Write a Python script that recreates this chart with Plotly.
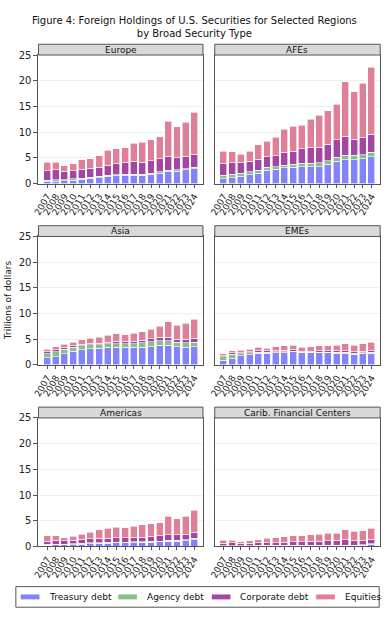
import plotly.graph_objects as go

years = list(range(2007, 2025))
year_labels = [str(y) for y in years]

regions = ["Europe", "AFEs", "Asia", "EMEs", "Americas", "Carib. Financial Centers"]
series_names = ["Treasury debt", "Agency debt", "Corporate debt", "Equities"]
series_colors = ["#8383fb", "#83c283", "#a346a3", "#df7f98"]

# Values in trillions of dollars (segments of each stacked bar)
europe_treasury = [0.3, 0.4, 0.5, 0.65, 0.8, 1.0, 1.15, 1.45, 1.5, 1.6, 1.6, 1.6, 1.8, 2.0, 2.3, 2.4, 2.65, 2.85]
europe_agency = [0.3, 0.3, 0.25, 0.25, 0.25, 0.25, 0.25, 0.2, 0.2, 0.2, 0.2, 0.2, 0.2, 0.25, 0.25, 0.25, 0.25, 0.3]
europe_corporate = [1.9, 2.0, 1.65, 1.6, 1.75, 1.75, 1.8, 1.95, 2.1, 2.3, 2.5, 2.35, 2.4, 2.6, 2.75, 2.35, 2.45, 2.55]
europe_equities = [1.65, 1.45, 1.1, 1.3, 1.8, 1.85, 2.2, 2.85, 3.0, 2.9, 3.5, 3.9, 4.1, 4.25, 6.8, 6.0, 6.55, 8.15]

afes_treasury = [0.95, 1.15, 1.4, 1.7, 2.0, 2.6, 2.75, 3.1, 3.2, 3.3, 3.25, 3.25, 3.75, 4.3, 4.6, 4.6, 4.8, 5.25]
afes_agency = [0.7, 0.65, 0.6, 0.6, 0.6, 0.6, 0.5, 0.5, 0.55, 0.65, 0.7, 0.75, 0.7, 0.8, 0.9, 0.9, 0.8, 0.85]
afes_corporate = [2.15, 2.2, 2.0, 2.0, 2.1, 2.0, 2.15, 2.5, 2.55, 2.85, 3.15, 3.1, 3.2, 3.4, 3.7, 3.1, 3.3, 3.5]
afes_equities = [2.5, 2.2, 1.7, 2.0, 2.8, 3.0, 3.6, 4.5, 4.8, 4.55, 5.4, 6.2, 6.55, 6.9, 10.6, 9.3, 10.6, 13.0]

asia_treasury = [1.4, 1.6, 2.2, 2.7, 3.0, 3.2, 3.3, 3.45, 3.45, 3.45, 3.4, 3.45, 3.55, 3.8, 3.8, 3.55, 3.4, 3.5]
asia_agency = [0.8, 1.0, 0.85, 0.75, 0.75, 0.7, 0.6, 0.65, 0.7, 0.7, 0.75, 0.9, 0.95, 0.9, 0.9, 0.85, 0.9, 0.95]
asia_corporate = [0.35, 0.4, 0.35, 0.3, 0.25, 0.3, 0.3, 0.35, 0.5, 0.5, 0.5, 0.5, 0.6, 0.7, 0.7, 0.65, 0.7, 0.75]
asia_equities = [0.55, 0.55, 0.6, 0.7, 0.9, 1.0, 1.15, 1.35, 1.4, 1.25, 1.55, 1.65, 1.85, 2.1, 3.0, 2.65, 3.1, 3.7]

emes_treasury = [0.9, 1.2, 1.8, 2.0, 2.3, 2.25, 2.35, 2.4, 2.55, 2.35, 2.35, 2.35, 2.35, 2.3, 2.3, 2.1, 2.25, 2.25]
emes_agency = [0.65, 0.85, 0.35, 0.35, 0.2, 0.25, 0.2, 0.2, 0.15, 0.15, 0.15, 0.15, 0.15, 0.2, 0.2, 0.2, 0.15, 0.25]
emes_corporate = [0.25, 0.3, 0.25, 0.25, 0.25, 0.25, 0.25, 0.25, 0.25, 0.2, 0.2, 0.25, 0.25, 0.25, 0.25, 0.25, 0.3, 0.25]
emes_equities = [0.35, 0.4, 0.45, 0.45, 0.7, 0.55, 0.75, 0.9, 0.85, 0.75, 0.8, 0.95, 1.0, 1.05, 1.35, 1.25, 1.4, 1.7]

americas_treasury = [0.25, 0.3, 0.3, 0.35, 0.45, 0.55, 0.6, 0.65, 0.7, 0.7, 0.75, 0.8, 0.85, 0.9, 1.0, 1.0, 1.1, 1.3]
americas_agency = [0.15, 0.15, 0.15, 0.15, 0.15, 0.15, 0.15, 0.15, 0.15, 0.15, 0.15, 0.15, 0.15, 0.15, 0.15, 0.15, 0.15, 0.25]
americas_corporate = [0.6, 0.75, 0.65, 0.65, 0.75, 0.75, 0.8, 0.75, 0.85, 0.85, 0.9, 0.85, 1.0, 1.05, 1.15, 1.1, 1.05, 1.2]
americas_equities = [1.05, 0.9, 0.6, 0.85, 1.05, 1.35, 1.65, 2.0, 2.05, 1.95, 2.15, 2.4, 2.45, 2.5, 3.55, 3.15, 3.55, 4.25]

carib_treasury = [0.1, 0.12, 0.12, 0.12, 0.15, 0.15, 0.15, 0.15, 0.15, 0.15, 0.15, 0.15, 0.15, 0.2, 0.2, 0.2, 0.25, 0.4]
carib_agency = [0.05, 0.05, 0.05, 0.05, 0.05, 0.05, 0.05, 0.05, 0.05, 0.05, 0.05, 0.05, 0.05, 0.05, 0.05, 0.05, 0.05, 0.1]
carib_corporate = [0.5, 0.53, 0.48, 0.48, 0.5, 0.55, 0.55, 0.65, 0.7, 0.75, 0.8, 0.8, 0.9, 0.9, 1.05, 0.95, 0.9, 0.9]
carib_equities = [0.5, 0.5, 0.3, 0.45, 0.6, 0.8, 0.9, 1.05, 1.15, 1.1, 1.25, 1.35, 1.45, 1.45, 1.9, 1.75, 1.85, 2.15]

region_data = [
    [europe_treasury, europe_agency, europe_corporate, europe_equities],
    [afes_treasury, afes_agency, afes_corporate, afes_equities],
    [asia_treasury, asia_agency, asia_corporate, asia_equities],
    [emes_treasury, emes_agency, emes_corporate, emes_equities],
    [americas_treasury, americas_agency, americas_corporate, americas_equities],
    [carib_treasury, carib_agency, carib_corporate, carib_equities],
]

y_ticks = [0, 5, 10, 15, 20, 25]

W, H = 392, 624
col_px = [(33, 200), (212, 380)]
row_px = [(50, 181), (235, 366), (420, 551)]  # (top, bottom) in pixels from top
strip_h = 11
frame_col = "#555555"

fig = go.Figure()
layout = dict(
    width=W, height=H, autosize=False,
    margin=dict(l=0, r=0, t=0, b=0),
    paper_bgcolor="white", plot_bgcolor="white",
    barmode="stack", bargap=0.2,
    showlegend=False,
    font=dict(family="DejaVu Sans", color="#222222"),
)
shapes = []
annotations = []

for i, region in enumerate(regions):
    r, c = divmod(i, 2)
    idx = i + 1
    xa = "x" if idx == 1 else f"x{idx}"
    ya = "y" if idx == 1 else f"y{idx}"
    for s in range(4):
        fig.add_trace(go.Bar(
            x=years, y=region_data[i][s], name=series_names[s],
            marker=dict(color=series_colors[s], line=dict(color="white", width=0.6)),
            xaxis=xa, yaxis=ya, showlegend=False,
        ))
    x0, x1 = col_px[c][0] / W, col_px[c][1] / W
    top, bot = row_px[r]
    y0, y1 = 1 - bot / H, 1 - top / H
    layout["xaxis" if idx == 1 else f"xaxis{idx}"] = dict(
        domain=[x0, x1], anchor=ya, range=[2006, 2025],
        tickmode="array", tickvals=years, ticktext=year_labels,
        tickangle=-60, tickfont=dict(size=9, color="#222222"),
        ticks="outside", ticklen=3, tickcolor=frame_col,
        showline=True, mirror=True, linecolor=frame_col, linewidth=1,
        showgrid=False, zeroline=False, fixedrange=True,
    )
    layout["yaxis" if idx == 1 else f"yaxis{idx}"] = dict(
        domain=[y0, y1], anchor=xa, range=[0, 25],
        tickmode="array", tickvals=y_ticks,
        showticklabels=(c == 0), tickfont=dict(size=10, color="#222222"),
        ticks="outside" if c == 0 else "", ticklen=4, tickcolor=frame_col,
        showline=True, mirror=True, linecolor=frame_col, linewidth=1,
        showgrid=True, gridcolor="#efefef", gridwidth=1,
        zeroline=False, fixedrange=True,
    )
    sy0 = y1
    sy1 = 1 - (top - strip_h) / H
    shapes.append(dict(type="rect", xref="paper", yref="paper",
                       x0=x0, x1=x1, y0=sy0, y1=sy1,
                       fillcolor="#d9d9d9", line=dict(color=frame_col, width=1)))
    annotations.append(dict(text=region, xref="paper", yref="paper",
                            x=(x0 + x1) / 2, y=(sy0 + sy1) / 2,
                            xanchor="center", yanchor="middle", showarrow=False,
                            font=dict(size=9, color="#111111")))

# Title
annotations.append(dict(
    text="Figure 4: Foreign Holdings of U.S. Securities for Selected Regions<br>by Broad Security Type",
    xref="paper", yref="paper", x=191 / W, y=1 - 21 / H, xanchor="center", yanchor="middle",
    showarrow=False, align="center", font=dict(size=10, color="#111111")))

# Y-axis title
annotations.append(dict(
    text="Trillions of dollars", xref="paper", yref="paper",
    x=2 / W, y=1 - 300 / H, xanchor="center", yanchor="middle",
    textangle=-90, showarrow=False, font=dict(size=9, color="#222222")))

# Custom legend
shapes.append(dict(type="rect", xref="paper", yref="paper",
                   x0=10 / W, x1=379 / W, y0=1 - 613 / H, y1=1 - 592 / H,
                   fillcolor="white", line=dict(color=frame_col, width=1)))
sw_x = [15, 114, 209, 315]
txt_x = [42, 141, 236, 342]
ly = 602.5
for s in range(4):
    shapes.append(dict(type="rect", xref="paper", yref="paper",
                       x0=sw_x[s] / W, x1=(sw_x[s] + 19) / W,
                       y0=1 - (ly + 2.5) / H, y1=1 - (ly - 2.5) / H,
                       fillcolor=series_colors[s], line=dict(width=0)))
    annotations.append(dict(text=series_names[s], xref="paper", yref="paper",
                            x=txt_x[s] / W, y=1 - ly / H, xanchor="left", yanchor="middle",
                            showarrow=False, font=dict(size=9, color="#111111")))

layout["shapes"] = shapes
layout["annotations"] = annotations
fig.update_layout(**layout)
fig.write_html(
    "out.html",
    config={"displayModeBar": False},
    post_script="document.body.style.margin='0px';document.body.style.overflow='hidden';",
)
